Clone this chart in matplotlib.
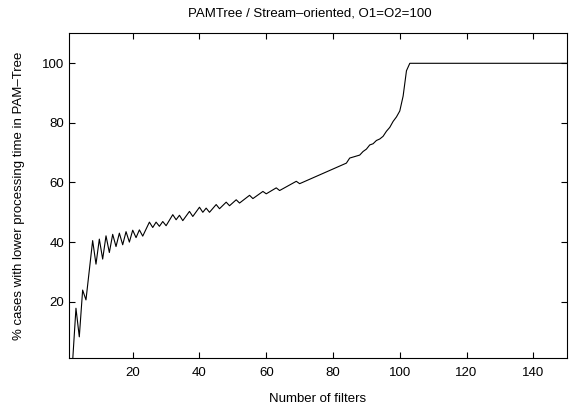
import matplotlib
matplotlib.use('Agg')
import matplotlib.pyplot as plt
from matplotlib.ticker import MultipleLocator

plt.rcParams['font.family'] = ['Liberation Sans', 'DejaVu Sans']
plt.rcParams['font.size'] = 9.5

# vertices of the curve
n_filters = [2, 3, 4, 5, 6, 8, 9, 10, 11, 12, 13, 14, 15, 16, 17, 18, 19, 20, 21, 22,
             23, 25, 26, 27, 28, 29, 30, 32, 33, 34, 35, 37, 38, 40, 41, 42, 43, 45, 46, 48,
             49, 51, 52, 55, 56, 59, 60, 63, 64, 69, 70, 84, 85, 88, 89, 90, 91, 92, 93, 94,
             95, 96, 97, 98, 99, 100, 101, 102, 103, 150]
pct_lower = [0, 17.8, 8.2, 23.9, 20.6, 40.5, 32.6, 41, 34.3, 42.1, 36.5, 42.6, 38.5, 43, 39.1, 43.5, 40, 44, 41.5, 44.1,
             42, 46.7, 44.9, 46.7, 45.3, 46.9, 45.5, 49.2, 47.5, 49, 47.2, 50.3, 48.6, 51.7, 50, 51.4, 50, 52.6, 51.2, 53.4,
             52.2, 54.2, 53.1, 55.7, 54.6, 57, 56.2, 58.2, 57.3, 60.4, 59.6, 66.5, 68.2, 69.2, 70.4, 71.2, 72.6, 73, 74.1, 74.6,
             75.5, 77.2, 78.5, 80.5, 82, 84, 89, 97.5, 100, 100]

fig = plt.figure(figsize=(5.74, 4.08), dpi=100)
ax = fig.add_axes([0.1207, 0.1218, 0.8666, 0.7961])

ax.plot(n_filters, pct_lower, color='black', linewidth=0.8)

ax.set_xlim(1, 150)
ax.set_ylim(1, 110)
ax.xaxis.set_major_locator(MultipleLocator(20))
ax.set_yticks([20, 40, 60, 80, 100])
ax.tick_params(direction='in', top=True, right=True, length=4, width=0.8, labelsize=9.5)
ax.tick_params(axis='x', pad=6.5)
for s in ax.spines.values():
    s.set_linewidth(0.8)

ax.set_xlabel("Number of filters", labelpad=9.5)
ax.set_ylabel("% cases with lower processing time in PAM\u2013Tree", labelpad=12.5)
fig.text(310/574, 1 - 13/408, "PAMTree / Stream\u2013oriented, O1=O2=100", ha='center', va='center', fontsize=9.5)

fig.savefig('out.png', dpi=100)
